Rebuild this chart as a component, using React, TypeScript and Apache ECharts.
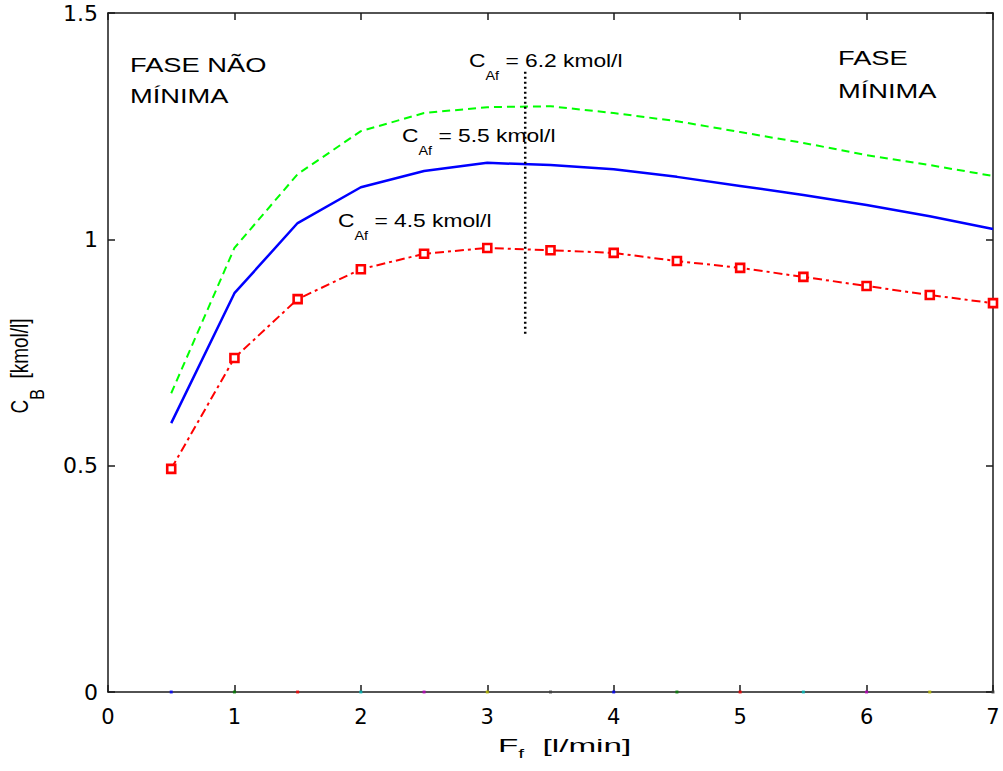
import { useEffect, useRef } from "react";
import * as echarts from "echarts";

// Feed flow F_f [l/min]
const fValues = [0.5, 1, 1.5, 2, 2.5, 3, 3.5, 4, 4.5, 5, 5.5, 6, 6.5, 7];
// C_B [kmol/l] for C_Af = 6.2, 5.5 and 4.5 kmol/l
const cb62 = [0.66, 0.981, 1.144, 1.239, 1.279, 1.292, 1.294, 1.279, 1.261, 1.237, 1.213, 1.186, 1.164, 1.14];
const cb55 = [0.594, 0.881, 1.036, 1.115, 1.151, 1.169, 1.164, 1.155, 1.138, 1.118, 1.098, 1.076, 1.051, 1.023];
const cb45 = [0.493, 0.738, 0.868, 0.934, 0.968, 0.981, 0.976, 0.97, 0.952, 0.937, 0.917, 0.897, 0.877, 0.859];
// small markers lying on the axis (C_B = 0)
const zeroY = [0, 0, 0, 0, 0, 0, 0, 0, 0, 0, 0, 0, 0, 0];
const zeroColors = [
  "#0000ff", "#008000", "#ff0000", "#00bfbf", "#bf00bf", "#bfbf00", "#404040",
  "#0000ff", "#008000", "#ff0000", "#00bfbf", "#bf00bf", "#bfbf00", "#404040",
];
// boundary between non-minimum / minimum phase
const boundaryX = [3.3, 3.3];
const boundaryY = [1.37, 0.785];

const xTicks = [0, 1, 2, 3, 4, 5, 6, 7];
const yTicks = [0, 0.5, 1, 1.5];

const FONT = "'Liberation Sans', Arial, sans-serif";
const TICKFONT = "'DejaVu Sans', sans-serif";

// subscript drawn with rich text; the subscript sits pad/2 below the main line
function subLabel(main: string, sub: string, rest: string, size: number, subSize: number, pad: number) {
  return {
    text: `{c|${main}}{s|${sub}}{c|${rest}}`,
    rich: {
      c: { fontSize: size, fontFamily: FONT, fill: "#000" },
      s: { fontSize: subSize, fontFamily: FONT, fill: "#000", padding: [pad, 0, 0, 0] },
    },
  };
}

export default function App() {
  const ref = useRef<HTMLDivElement>(null);
  useEffect(() => {
    if (!ref.current) return;
    const chart = echarts.init(ref.current, undefined, { renderer: "svg" });
    const axisLine = { show: true, onZero: false, lineStyle: { color: "#1a1a1a", width: 1.5 } };
    const tick = { show: true, inside: true, length: 7, lineStyle: { color: "#1a1a1a", width: 1.5 } };
    const ann = (x: number, y: number, val: string) => ({
      type: "text",
      x,
      y,
      scaleX: 1.2,
      style: {
        ...subLabel("C", "Af", ` = ${val} kmol/l`, 19, 12, 32),
        align: "left",
        verticalAlign: "middle",
      },
    });
    chart.setOption({
      animation: false,
      backgroundColor: "#fff",
      grid: { left: 108, right: 10, top: 13, bottom: 79 },
      xAxis: [
        {
          type: "value",
          min: xTicks[0],
          max: xTicks[xTicks.length - 1],
          interval: 1,
          position: "bottom",
          axisLine,
          axisTick: tick,
          splitLine: { show: false },
          axisLabel: { fontSize: 21, fontFamily: TICKFONT, color: "#000", margin: 14 },
        },
        {
          type: "value",
          min: xTicks[0],
          max: xTicks[xTicks.length - 1],
          interval: 1,
          position: "top",
          axisLine,
          axisTick: tick,
          splitLine: { show: false },
          axisLabel: { show: false },
        },
      ],
      yAxis: [
        {
          type: "value",
          min: yTicks[0],
          max: yTicks[yTicks.length - 1],
          interval: 0.5,
          position: "left",
          axisLine,
          axisTick: tick,
          splitLine: { show: false },
          axisLabel: { fontSize: 22, fontFamily: TICKFONT, color: "#000", margin: 10 },
        },
        {
          type: "value",
          min: yTicks[0],
          max: yTicks[yTicks.length - 1],
          interval: 0.5,
          position: "right",
          axisLine,
          axisTick: tick,
          splitLine: { show: false },
          axisLabel: { show: false },
        },
      ],
      series: [
        {
          name: "CAf = 6.2 kmol/l",
          type: "line",
          data: fValues.map((x, i) => [x, cb62[i]]),
          showSymbol: false,
          lineStyle: { color: "#00ff00", width: 2, type: [8, 5] },
        },
        {
          name: "CAf = 5.5 kmol/l",
          type: "line",
          data: fValues.map((x, i) => [x, cb55[i]]),
          showSymbol: false,
          lineStyle: { color: "#0000ff", width: 2.5 },
        },
        {
          name: "CAf = 4.5 kmol/l",
          type: "line",
          data: fValues.map((x, i) => [x, cb45[i]]),
          symbol: "rect",
          symbolSize: 8,
          itemStyle: { color: "#fff", borderColor: "#ff0000", borderWidth: 2.6 },
          lineStyle: { color: "#ff0000", width: 2, type: [9, 4, 3, 4] },
        },
        {
          name: "boundary",
          type: "line",
          data: boundaryX.map((x, i) => [x, boundaryY[i]]),
          showSymbol: false,
          lineStyle: { color: "#000", width: 2.5, type: [2, 3] },
        },
        {
          name: "zero",
          type: "scatter",
          symbol: "rect",
          symbolSize: 3,
          z: 5,
          data: fValues.map((x, i) => ({ value: [x, zeroY[i]], itemStyle: { color: zeroColors[i] } })),
        },
      ],
      graphic: [
        {
          type: "text",
          x: 130,
          y: 80,
          scaleX: 1.3,
          style: {
            text: "FASE NÃO\nMÍNIMA",
            fontSize: 21,
            fontFamily: FONT,
            lineHeight: 31,
            fill: "#000",
            align: "left",
            verticalAlign: "middle",
          },
        },
        {
          type: "text",
          x: 838,
          y: 74,
          scaleX: 1.3,
          style: {
            text: "FASE\nMÍNIMA",
            fontSize: 21,
            fontFamily: FONT,
            lineHeight: 33,
            fill: "#000",
            align: "left",
            verticalAlign: "middle",
          },
        },
        ann(469, 60, "6.2"),
        ann(402, 135, "5.5"),
        ann(338, 220, "4.5"),
        {
          type: "text",
          x: 498,
          y: 745,
          scaleX: 1.75,
          style: {
            ...subLabel("F", "f", "  [l/min]", 19, 12, 18),
            align: "left",
            verticalAlign: "middle",
          },
        },
        {
          type: "text",
          x: 20,
          y: 366,
          rotation: Math.PI / 2,
          scaleY: 1.3,
          style: {
            ...subLabel("C", "B", "  [kmol/l]", 19, 16, 26),
            align: "center",
            verticalAlign: "middle",
          },
        },
      ],
    });
    return () => chart.dispose();
  }, []);
  return (
    <div
      ref={ref}
      style={{ position: "absolute", left: 0, top: 0, width: 1003, height: 771, background: "#fff" }}
    />
  );
}
